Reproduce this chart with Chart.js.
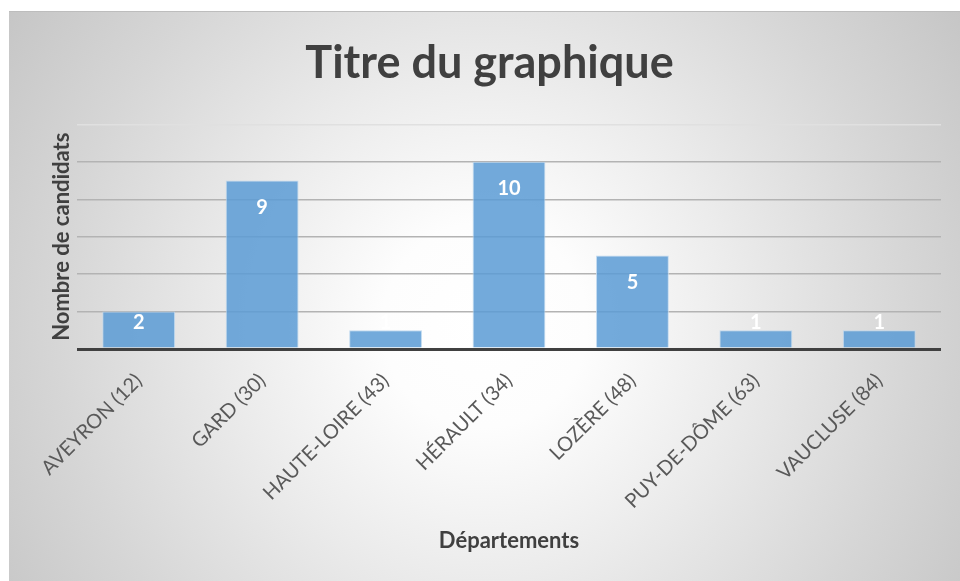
<!DOCTYPE html>
<html>
<head>
<meta charset="utf-8">
<script src="https://cdn.jsdelivr.net/npm/chart.js@4/dist/chart.umd.min.js"></script>
<style>
  body { margin: 0; background: #fff; }
  #frame {
    position: absolute; left: 9px; top: 11px; width: 951px; height: 570px;
    border-top: 1px solid #bdbdbd; box-sizing: border-box;
    background: radial-gradient(circle farthest-corner at 50% 55%, #ffffff 0%, #fdfdfd 18%, #ebebeb 45%, #d6d6d6 75%, #c6c6c6 100%);
  }
  canvas { display: block; }
</style>
</head>
<body>
<div id="frame"><canvas id="chart" width="951" height="569"></canvas></div>
<script>
const departements = ["AVEYRON (12)", "GARD (30)", "HAUTE-LOIRE (43)", "HÉRAULT (34)", "LOZÈRE (48)", "PUY-DE-DÔME (63)", "VAUCLUSE (84)"];
const candidats = [2, 9, 1, 10, 5, 1, 1];
const yMax = 12;
const yStep = 2;

const FONT = "Lato, 'Open Sans', sans-serif";

// white value labels, drawn at the bar ends
const valueLabels = {
  id: "valueLabels",
  afterDatasetsDraw(chart) {
    const ctx = chart.ctx;
    const meta = chart.getDatasetMeta(0);
    ctx.save();
    ctx.fillStyle = "#ffffff";
    ctx.font = "bold 20px " + FONT;
    ctx.textAlign = "center";
    ctx.textBaseline = "middle";
    meta.data.forEach((bar, i) => {
      const y = Math.min(bar.y + 27, bar.base - 25);
      ctx.fillText(String(candidats[i]), bar.x, y);
    });
    ctx.restore();
  },
};

new Chart(document.getElementById("chart"), {
  type: "bar",
  data: {
    labels: departements,
    datasets: [
      {
        label: "Nombre de candidats",
        data: candidats,
        backgroundColor: "rgba(91, 155, 213, 0.85)",
        borderColor: "rgba(189, 215, 238, 0.9)",
        borderWidth: 1,
        categoryPercentage: 1,
        barPercentage: 0.59,
      },
    ],
  },
  options: {
    responsive: false,
    animation: false,
    devicePixelRatio: 1,
    layout: { padding: { top: 0, right: 19, bottom: 0, left: 29 } },
    plugins: {
      legend: { display: false },
      tooltip: { enabled: false },
      title: {
        display: true,
        text: "Titre du graphique",
        color: "#404040",
        font: { family: FONT, size: 45, weight: "bold", lineHeight: 1.2 },
        padding: { top: 24, bottom: 34.4 },
      },
    },
    scales: {
      x: {
        grid: { display: false },
        border: { display: false },
        ticks: {
          color: "#595959",
          font: { family: FONT, size: 20 },
          minRotation: 45,
          maxRotation: 45,
          autoSkip: false,
          padding: 12,
        },
        title: {
          display: true,
          text: "Départements",
          color: "#404040",
          font: { family: FONT, size: 22, weight: "bold", lineHeight: 1.2 },
          padding: { top: 0, bottom: 27 },
        },
        afterFit(scale) { scale.height = 232; },
      },
      y: {
        min: 0,
        max: yMax,
        ticks: { display: false, stepSize: yStep },
        border: { display: false },
        grid: {
          drawTicks: false,
          color: (c) => (c.tick.value === 0 ? "#404040" : c.tick.value === yMax ? "#e0e0e0" : "#b3b3b3"),
          lineWidth: (c) => (c.tick.value === 0 ? 3 : 1.5),
        },
        title: {
          display: true,
          text: "Nombre de candidats",
          color: "#404040",
          font: { family: FONT, size: 22, weight: "bold", lineHeight: 1.2 },
          padding: { top: 11, bottom: 0 },
        },
        afterFit(scale) { scale.width = 39; },
      },
    },
  },
  plugins: [valueLabels],
});
</script>
</body>
</html>
